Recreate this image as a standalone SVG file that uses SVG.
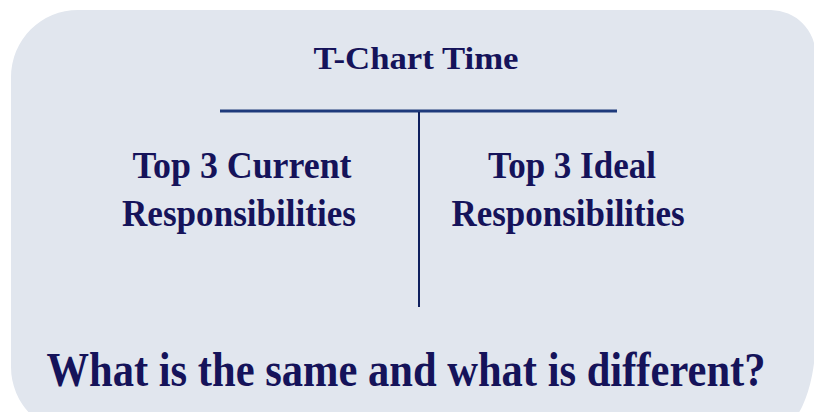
<svg xmlns="http://www.w3.org/2000/svg" width="814" height="412" viewBox="0 0 814 412">
  <style>
    .panel { fill: #E1E6EE; }
    .txt { font-family: "Liberation Serif", "DejaVu Serif", serif; fill: #15135A; text-anchor: middle; font-weight: bold; }
    .title { font-size: 32px; }
    .col { font-size: 37px; }
    .ask { font-size: 49px; }
    .hbar { stroke: #1E3A7B; stroke-width: 3; }
    .vbar { stroke: #0F205E; stroke-width: 2; }
  </style>

  <!-- rounded background panel, running past the right and bottom edges -->
  <path class="panel" d="M11,77 A67,67 0 0 1 78,10 L771,10 A45,44.5 0 0 1 815.5,54.5 L815.5,339 A45,95 0 0 1 770.5,434 L78,434 A67,67 0 0 1 11,367 Z"/>

  <g id="title">
    <text class="txt title" x="416" y="69" textLength="205" lengthAdjust="spacingAndGlyphs">T-Chart Time</text>
  </g>

  <g id="connectors">
    <line class="hbar" x1="220" y1="111" x2="617" y2="111"/>
    <line class="vbar" x1="419" y1="112" x2="419" y2="307"/>
  </g>

  <g id="current">
    <text class="txt col" x="242" y="178" textLength="219" lengthAdjust="spacingAndGlyphs">Top 3 Current</text>
    <text class="txt col" x="239" y="226" textLength="234" lengthAdjust="spacingAndGlyphs">Responsibilities</text>
  </g>

  <g id="ideal">
    <text class="txt col" x="572" y="178" textLength="168" lengthAdjust="spacingAndGlyphs">Top 3 Ideal</text>
    <text class="txt col" x="568" y="226" textLength="233" lengthAdjust="spacingAndGlyphs">Responsibilities</text>
  </g>

  <g id="question">
    <text class="txt ask" x="406" y="386" textLength="719" lengthAdjust="spacingAndGlyphs">What is the same and what is different?</text>
  </g>
</svg>
